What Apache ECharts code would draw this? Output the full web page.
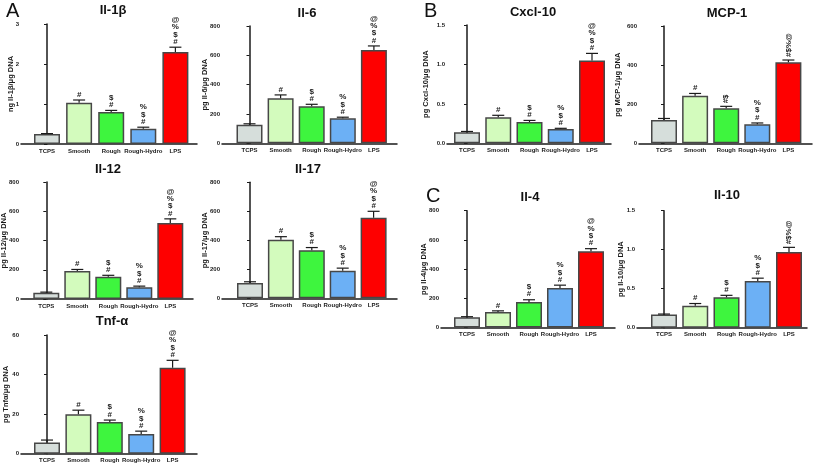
<!DOCTYPE html>
<html><head><meta charset="utf-8">
<script src="https://cdn.jsdelivr.net/npm/echarts@6/dist/echarts.min.js"></script>
<style>html,body{margin:0;padding:0;background:#fff}#c{width:817px;height:463px}</style>
</head><body><div id="c"></div>
<script>
// ---- data ----
const categories = ['TCPS', 'Smooth', 'Rough', 'Rough-Hydro', 'LPS'];
const marks = ['', '#', '$#', '%$#', '@%$#']; // significance marks, listed top-to-bottom

const il1b = [0.25, 1.03, 0.80, 0.38, 2.30];
const il1bErr = [0.01, 0.07, 0.04, 0.04, 0.12];
const il1bTicks = [0, 1, 2, 3];

const il6 = [127, 308, 253, 170, 637];
const il6Err = [6, 22, 13, 8, 27];
const il6Ticks = [0, 200, 400, 600, 800];

const il12 = [42, 192, 152, 80, 520];
const il12Err = [5, 10, 10, 8, 28];
const il12Ticks = [0, 200, 400, 600, 800];

const il17 = [105, 403, 332, 190, 556];
const il17Err = [9, 22, 18, 18, 44];
const il17Ticks = [0, 200, 400, 600, 800];

const tnfa = [5.6, 20.0, 16.0, 10.0, 43.5];
const tnfaErr = [1.3, 2.0, 1.0, 1.4, 3.7];
const tnfaTicks = [0, 20, 40, 60];

const cxcl10 = [0.14, 0.33, 0.27, 0.18, 1.05];
const cxcl10Err = [0.01, 0.025, 0.02, 0.01, 0.09];
const cxcl10Ticks = [0, 0.5, 1.0, 1.5];

const mcp1 = [119, 243, 179, 97, 414];
const mcp1Err = [8, 12, 10, 7, 12];
const mcp1Ticks = [0, 200, 400, 600];

const il4 = [70, 106, 175, 270, 522];
const il4Err = [4, 8, 15, 20, 18];
const il4Ticks = [0, 200, 400, 600, 800];

const il10 = [0.17, 0.28, 0.39, 0.60, 0.97];
const il10Err = [0.005, 0.03, 0.025, 0.035, 0.06];
const il10Ticks = [0, 0.5, 1.0, 1.5];

// ---- layout / style ----
const barColors = ['#d6dedb', '#d3fbbd', '#3ef53e', '#6cb0f5', '#fe0000'];
const FONT = 'Liberation Sans, Arial, sans-serif';
const INK = '#1a1a1a';

const panels = [
  {title:'Il-1β', yName:'ng Il-1β/μg DNA', vals:il1b, errs:il1bErr, ticks:il1bTicks, dec:0,
   ax:21, top:24, zero:144, end:197, c0:47, sp:32.1, tx:113, ty:11, gap:6},
  {title:'Il-6', yName:'pg Il-6/μg DNA', vals:il6, errs:il6Err, ticks:il6Ticks, dec:0,
   ax:222, top:26, zero:143.3, end:397, c0:249.5, sp:31.1, tx:307, ty:14, gap:13},
  {title:'Il-12', yName:'pg Il-12/μg DNA', vals:il12, errs:il12Err, ticks:il12Ticks, dec:0,
   ax:21, top:182, zero:299, end:193, c0:46.3, sp:31, tx:108, ty:170, gap:13},
  {title:'Il-17', yName:'pg Il-17/μg DNA', vals:il17, errs:il17Err, ticks:il17Ticks, dec:0,
   ax:222, top:182.3, zero:298.3, end:397, c0:250, sp:30.9, tx:308, ty:170, gap:13},
  {title:'Tnf-α', yName:'pg Tnfα/μg DNA', vals:tnfa, errs:tnfaErr, ticks:tnfaTicks, dec:0,
   ax:21, top:335, zero:453.7, end:197, c0:47, sp:31.4, tx:112, ty:322, gap:11},
  {title:'Cxcl-10', yName:'pg Cxcl-10/μg DNA', vals:cxcl10, errs:cxcl10Err, ticks:cxcl10Ticks, dec:1,
   ax:447, top:25, zero:143.3, end:611, c0:467, sp:31.25, tx:533, ty:13, gap:17},
  {title:'MCP-1', yName:'pg MCP-1/μg DNA', vals:mcp1, errs:mcp1Err, ticks:mcp1Ticks, dec:0,
   ax:639, top:26, zero:143.3, end:812, c0:664, sp:31.1, tx:727, ty:14, gap:17, rot:[0,0,1,0,1]},
  {title:'Il-4', yName:'pg Il-4/μg DNA', vals:il4, errs:il4Err, ticks:il4Ticks, dec:0,
   ax:441, top:210.7, zero:327.5, end:615, c0:467, sp:31, tx:530, ty:198, gap:13},
  {title:'Il-10', yName:'pg Il-10/μg DNA', vals:il10, errs:il10Err, ticks:il10Ticks, dec:1,
   ax:637, top:210.7, zero:327.7, end:807, c0:664, sp:31.25, tx:727, ty:196, gap:12, rot:[0,0,0,0,1]}
];

const grid = [], xAxis = [], yAxis = [], series = [], title = [];

panels.forEach((p, i) => {
  grid.push({left:p.ax, top:p.top, width:p.end - p.ax, height:p.zero - p.top, containLabel:false, outerBoundsMode:'none'});
  const lastC = p.c0 + 4 * p.sp;
  xAxis.push({
    gridIndex:i, type:'value',
    min: -(p.c0 - p.ax) / p.sp, max: 4 + (p.end - lastC) / p.sp,
    axisLine:{show:true, onZero:false, lineStyle:{color:INK, width:1.5}},
    axisTick:{show:false}, splitLine:{show:false},
    axisLabel:{customValues:[0,1,2,3,4], formatter:(v) => categories[Math.round(v)] || '',
      fontSize:6, fontWeight:'bold', color:INK, margin:4, fontFamily:FONT, hideOverlap:false}
  });
  const t = p.ticks;
  yAxis.push({
    gridIndex:i, type:'value', min:t[0], max:t[t.length-1], interval:t[1]-t[0],
    axisLine:{show:true, lineStyle:{color:INK, width:1.5}},
    axisTick:{show:true, length:3, lineStyle:{color:INK, width:1}},
    splitLine:{show:false},
    axisLabel:{fontSize:6, fontWeight:'bold', color:INK, margin:2, fontFamily:FONT,
      formatter:(v) => Number(v).toFixed(p.dec)},
    name:p.yName, nameLocation:'middle', nameGap:p.gap, nameRotate:90, nameMoveOverlap:false,
    nameTextStyle:{fontSize:7.5, fontWeight:'bold', color:INK, fontFamily:FONT}
  });
  series.push({
    type:'bar', xAxisIndex:i, yAxisIndex:i, barWidth:26, silent:true,
    data:p.vals.map((v, j) => ({value:[j, v], itemStyle:{color:barColors[j]}})),
    itemStyle:{borderColor:'#474747', borderWidth:1.5}
  });
  series.push({
    type:'custom', xAxisIndex:i, yAxisIndex:i, silent:true, z:5,
    data:p.vals.map((v, j) => [j, v, p.errs[j]]),
    renderItem:(params, api) => {
      const x = api.value(0), v = api.value(1), e = api.value(2);
      const a = api.coord([x, v]), b = api.coord([x, v + e]);
      return {type:'group', children:[
        {type:'line', shape:{x1:a[0], y1:a[1], x2:b[0], y2:b[1]}, style:{stroke:INK, lineWidth:1.2}},
        {type:'line', shape:{x1:b[0]-6, y1:b[1], x2:b[0]+6, y2:b[1]}, style:{stroke:INK, lineWidth:1.2}}
      ]};
    }
  });
  series.push({
    type:'custom', xAxisIndex:i, yAxisIndex:i, silent:true, z:6,
    data:p.vals.map((v, j) => [j, v + p.errs[j]]),
    renderItem:(params, api) => {
      const j = params.dataIndex;
      const s = marks[j];
      if (!s) return {type:'group', children:[]};
      const b = api.coord([api.value(0), api.value(1)]);
      const chars = s.split('').reverse(); // bottom-to-top
      if (p.rot && p.rot[j]) {
        return {type:'text', x:b[0], y:b[1] - 3, rotation:Math.PI/2,
          style:{text:chars.join(''), fill:INK, font:'bold 8px ' + FONT,
            align:'left', verticalAlign:'middle', textAlign:'left', textVerticalAlign:'middle'}};
      }
      return {type:'group', children:chars.map((ch, k) => ({
        type:'text', x:b[0], y:b[1] - 5.5 - k * 7.3,
        style:{text:ch, fill:INK, font:'bold 8px ' + FONT,
          align:'center', verticalAlign:'middle', textAlign:'center', textVerticalAlign:'middle'}
      }))};
    }
  });
  title.push({text:p.title, left:p.tx, top:p.ty - 7, textAlign:'center', padding:0,
    textStyle:{fontSize:13, fontWeight:'bold', color:'#111', fontFamily:FONT}});
});

[['A', 6, 1], ['B', 424, 1], ['C', 426, 186]].forEach(([t, x, y]) => {
  title.push({text:t, left:x, top:y, padding:0,
    textStyle:{fontSize:20, fontWeight:'normal', color:'#111', fontFamily:FONT}});
});

const chart = echarts.init(document.getElementById('c'), null, {renderer:'canvas'});
chart.setOption({
  animation:false,
  backgroundColor:'#fff',
  textStyle:{fontFamily:FONT},
  title, grid, xAxis, yAxis, series
});
</script></body></html>
